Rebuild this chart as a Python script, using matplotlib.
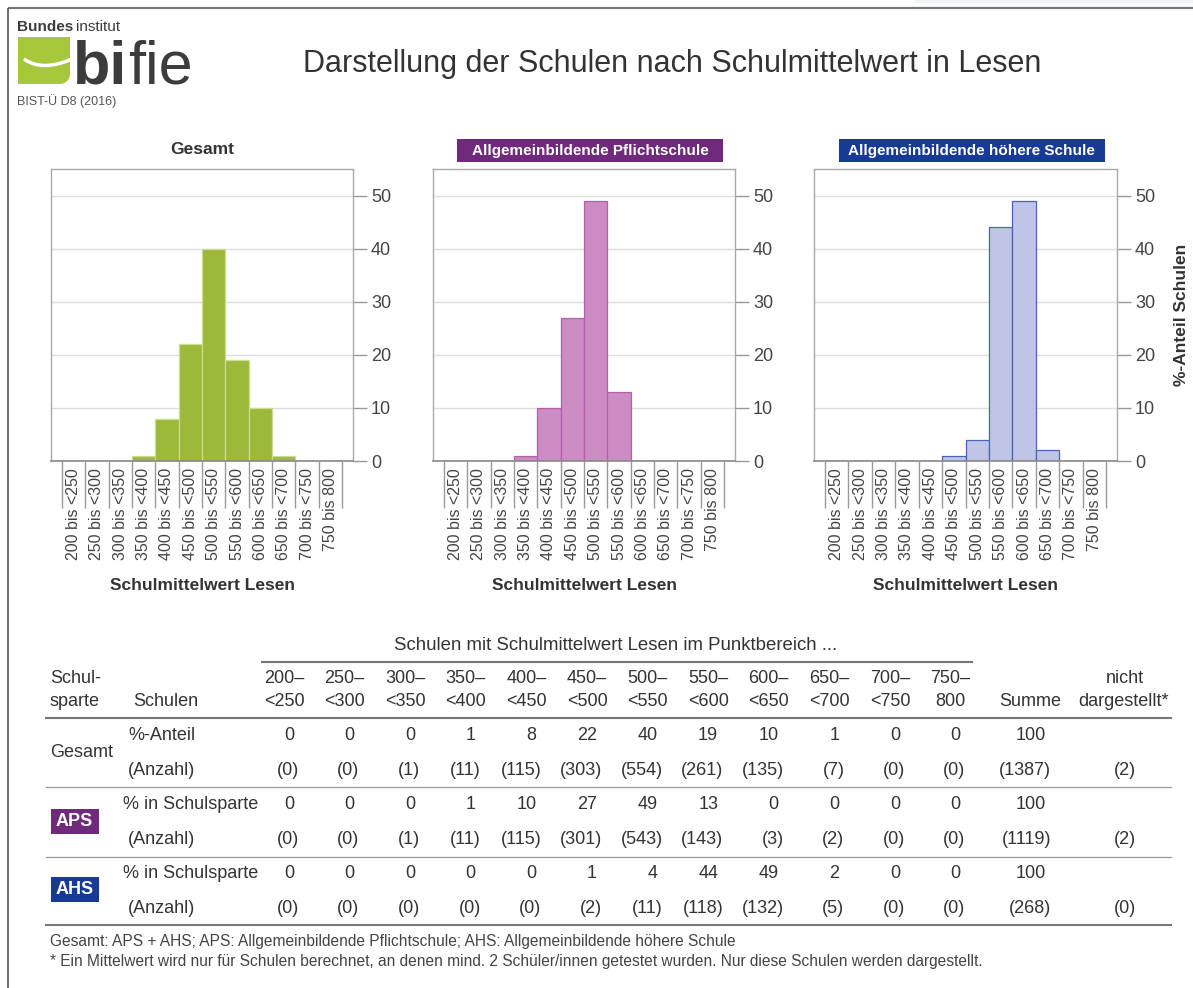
import matplotlib
matplotlib.use("Agg")
from matplotlib import pyplot as plt
from matplotlib.patches import Rectangle, Polygon, PathPatch
from matplotlib.path import Path
import numpy as np

plt.rcParams['font.family'] = ['Liberation Sans', 'DejaVu Sans']

# --- data ---
bin_labels = ["200 bis <250", "250 bis <300", "300 bis <350", "350 bis <400",
              "400 bis <450", "450 bis <500", "500 bis <550", "550 bis <600",
              "600 bis <650", "650 bis <700", "700 bis <750", "750 bis 800"]
col_heads = ["200–\n<250", "250–\n<300", "300–\n<350", "350–\n<400", "400–\n<450",
             "450–\n<500", "500–\n<550", "550–\n<600", "600–\n<650", "650–\n<700",
             "700–\n<750", "750–\n800"]

gesamt_pct = [0, 0, 0, 1, 8, 22, 40, 19, 10, 1, 0, 0]
gesamt_n = [0, 0, 1, 11, 115, 303, 554, 261, 135, 7, 0, 0]
aps_pct = [0, 0, 0, 1, 10, 27, 49, 13, 0, 0, 0, 0]
aps_n = [0, 0, 1, 11, 115, 301, 543, 143, 3, 2, 0, 0]
ahs_pct = [0, 0, 0, 0, 0, 1, 4, 44, 49, 2, 0, 0]
ahs_n = [0, 0, 0, 0, 0, 2, 11, 118, 132, 5, 0, 0]

summe_pct = [100, 100, 100]
summe_n = [1387, 1119, 268]
nicht_dargestellt = [2, 2, 0]

W, H = 1193, 988
TXT = '#333333'
PURPLE = '#6f2a7c'
BLUE = '#173b94'

fig = plt.figure(figsize=(W / 100, H / 100), dpi=100)
fig.patch.set_facecolor('white')

# background axes in pixel coordinates for the frame, logo, titles and table
bg = fig.add_axes([0, 0, 1, 1])
bg.set_xlim(0, W)
bg.set_ylim(H, 0)
bg.axis('off')

# frame
bg.add_patch(Rectangle((915, 0), W - 915, 3.5, color='#eef4f6', lw=0))
bg.plot([8, W], [8.5, 8.5], color='#777777', lw=1.6, solid_capstyle='butt')
bg.plot([8, 8], [8.5, H], color='#555555', lw=1.2, solid_capstyle='butt')

# logo
bg.text(17, 31, "Bundes", fontsize=11, fontweight='bold', color='#3c3c3c', va='baseline')
bg.text(76, 31, "institut", fontsize=11, color='#3c3c3c', va='baseline')
corner = [(70 - 10 + 10 * np.sin(a), 84 - 10 + 10 * np.cos(a)) for a in np.linspace(np.pi / 2, 0, 8)]
bg.add_patch(Polygon([(18, 37), (70, 37)] + corner + [(18, 84)], closed=True,
                     color='#a6c83c', lw=0))
swoosh = Path([(24, 59), (42, 72), (72, 59)], [Path.MOVETO, Path.CURVE3, Path.CURVE3])
bg.add_patch(PathPatch(swoosh, fc='none', ec='white', lw=2.5))
bg.text(73, 84, "bi", fontsize=44, fontweight='bold', color='#3c3c3c', va='baseline')
bg.text(128, 84, "fie", fontsize=44, color='#3c3c3c', va='baseline')
bg.text(17, 101, "BIST-Ü D8 (2016)", fontsize=9, color='#555555', va='center')

# main title
bg.text(672, 64, "Darstellung der Schulen nach Schulmittelwert in Lesen",
        fontsize=22, color=TXT, ha='center', va='center')

# --- histograms ---
panels = [
    (51, 353, gesamt_pct, '#9cb93a', '#c9dc8f', "Gesamt", None),
    (433, 735, aps_pct, '#cc8cc4', '#b45fa6', "Allgemeinbildende Pflichtschule", PURPLE),
    (814, 1117, ahs_pct, '#bec5e6', '#4c62b5', "Allgemeinbildende höhere Schule", BLUE),
]
top, bottom = 169, 461
x = np.arange(12)
for left, right, vals, fc, ec, title, boxcol in panels:
    ax = fig.add_axes([left / W, 1 - bottom / H, (right - left) / W, (bottom - top) / H])
    ax.bar(x, vals, width=1.0, color=fc, edgecolor=ec, linewidth=0.9, zorder=2)
    ax.set_xlim(-0.97, 11.97)
    ax.set_ylim(0, 55)
    ax.set_axisbelow(True)
    ax.yaxis.tick_right()
    ax.set_yticks([0, 10, 20, 30, 40, 50])
    ax.tick_params(axis='y', length=10, width=1, color='#999999', labelsize=13,
                   labelcolor='#444444', pad=3)
    ax.grid(axis='y', color='#dddddd', lw=1)
    ax.set_xticks(x, bin_labels, rotation=90, fontsize=11.5, color='#444444')
    ax.tick_params(axis='x', length=0, pad=5)
    for s in ['top', 'left', 'right']:
        ax.spines[s].set_color('#aaaaaa')
        ax.spines[s].set_linewidth(1)
    ax.spines['bottom'].set_color('#888888')
    ax.spines['bottom'].set_linewidth(1.2)
    ax.vlines(np.arange(13) - 0.5, -0.16, 0, transform=ax.get_xaxis_transform(),
              color='#999999', lw=1, clip_on=False)
    cx = (left + right) / 2
    bg.text(cx, 585, "Schulmittelwert Lesen", fontsize=12.5, fontweight='bold',
            color=TXT, ha='center', va='center')
    if boxcol is None:
        bg.text(cx, 150, title, fontsize=12.5, fontweight='bold', color=TXT,
                ha='center', va='center')
    else:
        bw = 266
        bg.add_patch(Rectangle((cx + 6 - bw / 2, 139), bw, 23, color=boxcol, lw=0))
        bg.text(cx + 6, 150.5, title, fontsize=11, fontweight='bold', color='white',
                ha='center', va='center')

bg.text(1181, 315, "%-Anteil Schulen", fontsize=12.5, fontweight='bold', color=TXT,
        rotation=90, ha='center', va='center')

# --- table ---
fs = 13
bg.text(616, 645, "Schulen mit Schulmittelwert Lesen im Punktbereich ...", fontsize=13.4,
        color=TXT, ha='center', va='center')
bg.plot([262, 972], [662, 662], color='#777777', lw=1.5)

cols = 284 + 60.6 * np.arange(12)
for c, head in zip(cols, col_heads):
    l1, l2 = head.split("\n")
    bg.text(c, 678, l1, fontsize=fs, color=TXT, ha='center', va='center')
    bg.text(c, 701, l2, fontsize=fs, color=TXT, ha='center', va='center')
bg.text(50, 678, "Schul-", fontsize=fs, color=TXT, va='center')
bg.text(50, 701, "sparte", fontsize=fs, color=TXT, va='center')
bg.text(133, 701, "Schulen", fontsize=fs, color=TXT, va='center')
bg.text(1030, 701, "Summe", fontsize=fs, color=TXT, ha='center', va='center')
bg.text(1125, 678, "nicht", fontsize=fs, color=TXT, ha='center', va='center')
bg.text(1124, 701, "dargestellt*", fontsize=fs, color=TXT, ha='center', va='center')

bg.plot([46, 1171], [718, 718], color='#777777', lw=1.5)
bg.plot([46, 1171], [787, 787], color='#999999', lw=0.9)
bg.plot([46, 1171], [857, 857], color='#999999', lw=0.9)
bg.plot([46, 1171], [925, 925], color='#777777', lw=1.5)

rows = [
    (735, 770, "%-Anteil", gesamt_pct, gesamt_n, 0),
    (804, 839, "% in Schulsparte", aps_pct, aps_n, 1),
    (873, 908, "% in Schulsparte", ahs_pct, ahs_n, 2),
]
for y1, y2, lab, pct, n, i in rows:
    bg.text(128 if i == 0 else 123, y1, lab, fontsize=fs, color=TXT, va='center')
    bg.text(128, y2, "(Anzahl)", fontsize=fs, color=TXT, va='center')
    for c, p, k in zip(cols, pct, n):
        bg.text(c + 10, y1, str(p), fontsize=fs, color=TXT, ha='right', va='center')
        bg.text(c + 15, y2, "(%d)" % k, fontsize=fs, color=TXT, ha='right', va='center')
    bg.text(1046, y1, str(summe_pct[i]), fontsize=fs, color=TXT, ha='right', va='center')
    bg.text(1051, y2, "(%d)" % summe_n[i], fontsize=fs, color=TXT, ha='right', va='center')
    bg.text(1125, y2, "(%d)" % nicht_dargestellt[i], fontsize=fs, color=TXT,
            ha='center', va='center')

bg.text(50, 752, "Gesamt", fontsize=fs, color=TXT, va='center')
for yb, name, col in [(809, "APS", PURPLE), (877, "AHS", BLUE)]:
    bg.add_patch(Rectangle((50.5, yb), 48, 25, color=col, lw=0))
    bg.text(74.5, yb + 12.5, name, fontsize=13, fontweight='bold', color='white',
            ha='center', va='center')

bg.text(50, 941, "Gesamt: APS + AHS; APS: Allgemeinbildende Pflichtschule; "
        "AHS: Allgemeinbildende höhere Schule", fontsize=11.2, color='#444444', va='center')
bg.text(50, 961, "* Ein Mittelwert wird nur für Schulen berechnet, an denen mind. "
        "2 Schüler/innen getestet wurden. Nur diese Schulen werden dargestellt.",
        fontsize=11.2, color='#444444', va='center')

fig.savefig("out.png", dpi=100)
